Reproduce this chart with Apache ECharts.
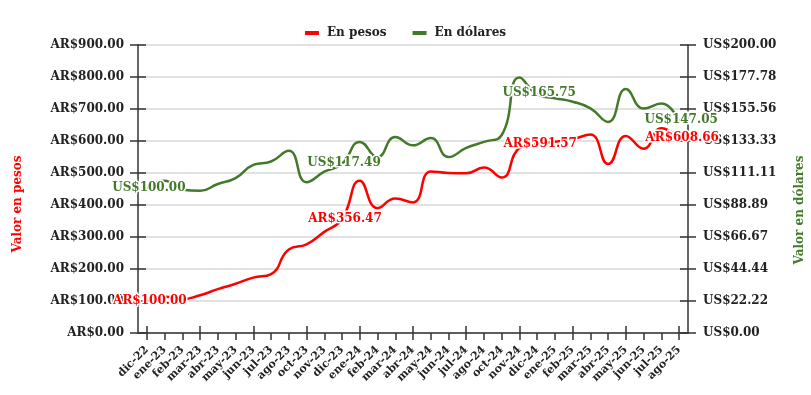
<!DOCTYPE html>
<html>
<head>
<meta charset="utf-8">
<script src="https://cdn.jsdelivr.net/npm/echarts@6/dist/echarts.min.js"></script>
<style>
html,body{margin:0;padding:0;background:#fff;}
#chart{width:811px;height:395px;}
</style>
</head>
<body>
<div id="chart"></div>
<script>
const categories = ['dic-22','ene-23','feb-23','mar-23','abr-23','may-23','jun-23','jul-23','ago-23','oct-23','nov-23','dic-23','ene-24','feb-24','mar-24','abr-24','may-24','jun-24','jul-24','ago-24','oct-24','nov-24','dic-24','ene-25','feb-25','mar-25','abr-25','may-25','jun-25','jul-25','ago-25'];
const pesos = [100.00,113,106,118,137,154,173,184,261,277,316,356.47,476,390,420,408,505,500,499,517,486,578,591.57,598,606,620,528,616,576,640,608.66];
const dolares = [100.00,105.8,99.5,98.8,103.5,107.5,116.8,119.1,126.5,104.7,112,117.49,132.7,122.2,136.1,130.3,135.4,122.2,128.5,132.7,137.5,177.5,165.75,163,160.6,156,146.6,169.4,155.9,159.4,147.05];
const labelledMonths = ['dic-22','dic-23','dic-24','ago-25'];
const leftTicks = {min:0, max:900, interval:100};
const rightTicks = {min:0, max:200, interval:200/9};

const FONT = 'DejaVu Serif';
const RED = '#ff0000';
const GREEN = '#437a2a';
const DARK = '#222';

function buildData(values){
  return values.map((v,i)=>{
    const show = labelledMonths.indexOf(categories[i]) >= 0;
    return {value:v, label:{show:show}};
  });
}

const chart = echarts.init(document.getElementById('chart'), null, {renderer:'canvas'});
const axisLbl = {fontFamily:FONT, fontWeight:'bold', fontSize:12, color:DARK};
const axisLineStyle = {show:true, lineStyle:{color:'#333', width:1.5}};

const option = {
  animation:false,
  backgroundColor:'#fff',
  legend:{
    top:22, left:'center',
    icon:'rect', itemWidth:14, itemHeight:4, itemGap:26,
    textStyle:{fontFamily:FONT, fontWeight:'bold', fontSize:12, color:DARK, padding:[0,0,0,3]},
    data:['En pesos','En dólares']
  },
  grid:{left:138, right:123, top:45, bottom:62, containLabel:false},
  xAxis:[{
    type:'category', data:categories, boundaryGap:true,
    axisLine:axisLineStyle,
    axisTick:{show:true, alignWithLabel:true, length:7, lineStyle:{color:'#333', width:1.5}},
    axisLabel:{interval:0, rotate:45, margin:15, fontFamily:FONT, fontWeight:'bold', fontSize:11, color:DARK},
    splitLine:{show:false}
  },{
    type:'category', data:categories, boundaryGap:true, position:'bottom',
    axisLine:{show:false},
    axisTick:{show:true, inside:true, alignWithLabel:true, length:7, lineStyle:{color:'#333', width:1.5}},
    axisLabel:{show:false}, splitLine:{show:false}
  }],
  yAxis:[{
    type:'value', position:'left', min:leftTicks.min, max:leftTicks.max, interval:leftTicks.interval,
    axisLine:axisLineStyle,
    axisTick:{show:true, length:8, lineStyle:{color:'#333', width:1.5}},
    axisLabel:Object.assign({margin:14, formatter:v=>'AR$'+v.toFixed(2)}, axisLbl),
    splitLine:{show:true, lineStyle:{color:'#d9d9d9', width:1.5}}
  },{
    type:'value', position:'right', min:rightTicks.min, max:rightTicks.max, interval:rightTicks.interval,
    axisLine:axisLineStyle,
    axisTick:{show:true, length:8, lineStyle:{color:'#333', width:1.5}},
    axisLabel:Object.assign({margin:15, formatter:v=>'US$'+v.toFixed(2)}, axisLbl),
    splitLine:{show:false}
  },{
    type:'value', position:'left', min:leftTicks.min, max:leftTicks.max, interval:leftTicks.interval,
    axisLine:{show:false},
    axisTick:{show:true, inside:true, length:8, lineStyle:{color:'#333', width:1.5}},
    axisLabel:{show:false}, splitLine:{show:false}
  },{
    type:'value', position:'right', min:rightTicks.min, max:rightTicks.max, interval:rightTicks.interval,
    axisLine:{show:false},
    axisTick:{show:true, inside:true, length:8, lineStyle:{color:'#333', width:1.5}},
    axisLabel:{show:false}, splitLine:{show:false}
  }],
  graphic:[{
    type:'text', x:18, y:204, rotation:Math.PI/2,
    style:{text:'Valor en pesos', fill:RED, font:'bold 12px "DejaVu Serif"', align:'center', verticalAlign:'middle'}
  },{
    type:'text', x:800, y:210, rotation:Math.PI/2,
    style:{text:'Valor en dólares', fill:GREEN, font:'bold 12px "DejaVu Serif"', align:'center', verticalAlign:'middle'}
  }],
  series:[{
    name:'En pesos', type:'line', xAxisIndex:0, yAxisIndex:0,
    data:buildData(pesos), smooth:true,
    showSymbol:true, showAllSymbol:true, symbol:'circle', symbolSize:0.01,
    lineStyle:{color:RED, width:2.5}, itemStyle:{color:RED},
    label:{show:false, position:'inside', offset:[3,0], fontFamily:FONT, fontWeight:'bold', fontSize:12, color:RED,
      textBorderColor:'#fff', textBorderWidth:3, formatter:p=>'AR$'+p.value.toFixed(2)},
    z:3
  },{
    name:'En dólares', type:'line', xAxisIndex:0, yAxisIndex:1,
    data:buildData(dolares), smooth:true,
    showSymbol:true, showAllSymbol:true, symbol:'circle', symbolSize:0.01,
    lineStyle:{color:GREEN, width:2.5}, itemStyle:{color:GREEN},
    label:{show:false, position:'inside', offset:[2,-1], fontFamily:FONT, fontWeight:'bold', fontSize:12, color:GREEN,
      textBorderColor:'#fff', textBorderWidth:3, formatter:p=>'US$'+p.value.toFixed(2)},
    z:3
  }]
};
chart.setOption(option);
</script>
</body>
</html>
